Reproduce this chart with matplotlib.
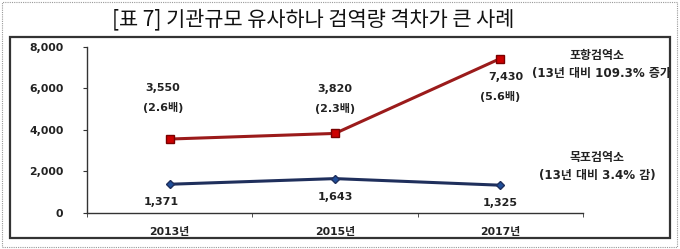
import matplotlib
matplotlib.use('Agg')
import matplotlib.pyplot as plt
from matplotlib.patches import Rectangle

plt.rcParams['font.family'] = ['DejaVu Sans', 'Noto Sans CJK KR']

# 데이터
years = ['2013년', '2015년', '2017년']
pohang = [3550, 3820, 7430]
mokpo = [1371, 1643, 1325]
pohang_ratio = ['(2.6배)', '(2.3배)', '(5.6배)']
yticks = [0, 2000, 4000, 6000, 8000]

W, H = 680, 249
fig = plt.figure(figsize=(W / 100, H / 100), dpi=100)

# 바깥 점선 테두리
fig.patches.append(Rectangle((2 / W, 2 / H), 675 / W, 245 / H, transform=fig.transFigure,
                             fill=False, ec='#999999', lw=0.8, ls=(0, (1, 1))))
# 차트 박스
box = Rectangle((10 / W, (H - 238) / H), 660 / W, 201 / H, transform=fig.transFigure,
                fill=False, ec='#333333', lw=1.6)
fig.patches.append(box)

fig.text(313 / W, 1 - 20 / H, '[표 7] 기관규모 유사하나 검역량 격차가 큰 사례',
         ha='center', va='center', fontsize=15, color='#111111',
         family=['Noto Sans CJK KR', 'DejaVu Sans'])

ax = fig.add_axes([87 / W, (H - 212.7) / H, 496 / W, 166 / H])
x = range(len(years))
ax.plot(x, pohang, color='#9b1b1b', lw=2.2, marker='s', ms=6,
        mfc='#cc0000', mec='#7a0000', zorder=3)
ax.plot(x, mokpo, color='#1f2f5c', lw=2.2, marker='D', ms=4.5,
        mfc='#1f4e99', mec='#1f2f5c', zorder=3)

ax.set_xlim(-0.5, 2.5)
ax.set_ylim(0, 8000)
ax.set_yticks(yticks)
ax.set_yticklabels([f'{v:,}' for v in yticks], fontsize=7.8, fontweight='bold', color='#222222')
ax.set_xticks(list(x))
ax.set_xticklabels(years, fontsize=7.8, fontweight='bold', color='#222222')
ax.tick_params(axis='x', which='major', length=0, pad=10)
ax.set_xticks([-0.5, 0.5, 1.5, 2.5], minor=True)
ax.tick_params(axis='x', which='minor', length=3, color='#333333', direction='out')
ax.tick_params(axis='y', length=3, color='#333333', pad=14)
for s in ['top', 'right']:
    ax.spines[s].set_visible(False)
for s in ['left', 'bottom']:
    ax.spines[s].set_color('#333333')
    ax.spines[s].set_linewidth(1.0)

lab = dict(fontsize=8, fontweight='bold', color='#222222', ha='center', va='center')
# 포항 라벨
ax.annotate(f'{pohang[0]:,}', (0, pohang[0]), xytext=(-5, 37), textcoords='offset points', **lab)
ax.annotate(pohang_ratio[0], (0, pohang[0]), xytext=(-5, 23), textcoords='offset points', **lab)
ax.annotate(f'{pohang[1]:,}', (1, pohang[1]), xytext=(0, 32), textcoords='offset points', **lab)
ax.annotate(pohang_ratio[1], (1, pohang[1]), xytext=(0, 18), textcoords='offset points', **lab)
ax.annotate(f'{pohang[2]:,}', (2, pohang[2]), xytext=(4, -13), textcoords='offset points', **lab)
ax.annotate(pohang_ratio[2], (2, pohang[2]), xytext=(0, -27), textcoords='offset points', **lab)
# 목포 라벨
for i, v in enumerate(mokpo):
    ax.annotate(f'{v:,}', (i, v), xytext=(-6 if i == 0 else 0, -13), textcoords='offset points', **lab)

# 범례 텍스트
leg = dict(lab, fontsize=8.6)
fig.text(597 / W, 1 - 56 / H, '포항검역소', **leg)
t = fig.text(532 / W, 1 - 73 / H, '(13년 대비 109.3% 증가)', fontsize=8.6, fontweight='bold',
             color='#222222', ha='left', va='center')
t.set_clip_path(box)
fig.text(597 / W, 1 - 157 / H, '목포검역소', **leg)
fig.text(597 / W, 1 - 175 / H, '(13년 대비 3.4% 감)', **leg)

fig.savefig('out.png', dpi=100)
